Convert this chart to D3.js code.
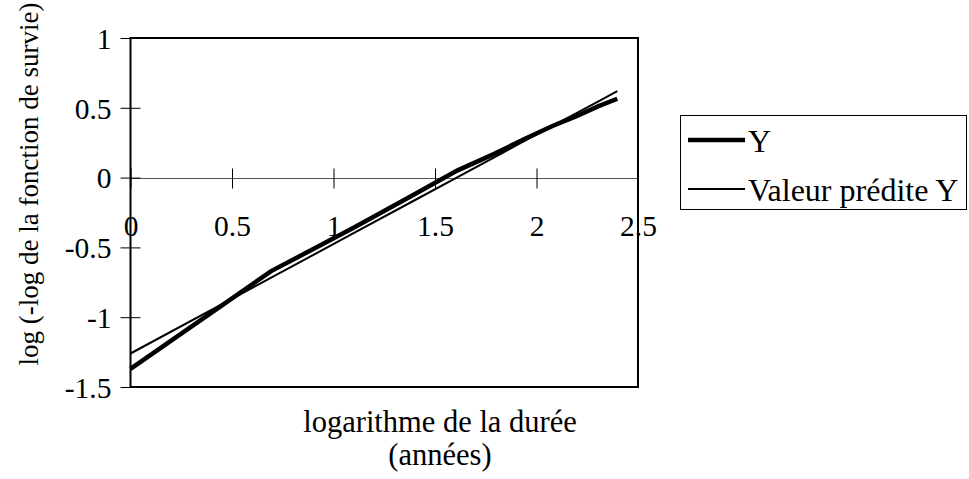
<!DOCTYPE html>
<html>
<head>
<meta charset="utf-8">
<script src="https://cdn.jsdelivr.net/npm/d3@7"></script>
<style>
  body { margin: 0; background: #fff; }
  svg { display: block; }
  text { font-family: "Liberation Serif", "Times New Roman", serif; fill: #000; }
</style>
</head>
<body>
<svg id="chart" width="969" height="479"></svg>
<script>
// logarithme de la durée (ln t, t = 1..11 années)
const logDuree = [0, 0.693, 1.099, 1.386, 1.609, 1.792, 1.946, 2.079, 2.197, 2.303, 2.398];
// log(-log S(t)) observé
const yObserve = [-1.37, -0.67, -0.36, -0.13, 0.05, 0.17, 0.28, 0.37, 0.44, 0.51, 0.565];
// valeurs prédites par la droite de régression
const yPredit = [-1.26, -0.717, -0.398, -0.173, 0.001, 0.145, 0.266, 0.370, 0.462, 0.545, 0.620];

const xTicks = [0, 0.5, 1, 1.5, 2, 2.5];
const yTicks = [-1.5, -1, -0.5, 0, 0.5, 1];
const seriesNames = ["Y", "Valeur prédite Y"];
const xTitle = ["logarithme de la durée", "(années)"];
const yTitle = "log (-log de la fonction de survie)";

const svg = d3.select("#chart");
const tickFont = 29.5;
const fmt = d => String(d);   // plain hyphen for negatives

const x = d3.scaleLinear().domain([0, 2.5]).range([130.5, 638]);
const y = d3.scaleLinear().domain([-1.5, 1]).range([387, 38]);

// zero line across the plot
svg.append("line")
  .attr("x1", x(0)).attr("x2", x(2.5))
  .attr("y1", Math.round(y(0)) + 0.5).attr("y2", Math.round(y(0)) + 0.5)
  .attr("stroke", "#555").attr("stroke-width", 1);

// x axis ticks along the zero line (crossing ticks)
const xAxis = svg.append("g")
  .attr("transform", `translate(0,${Math.round(y(0)) + 0.5})`)
  .call(d3.axisBottom(x).tickValues(xTicks).tickSize(10).tickSizeOuter(0).tickFormat(fmt));
xAxis.select(".domain").remove();
xAxis.selectAll(".tick line").attr("stroke", "#000").attr("y1", -10).attr("y2", 10);
xAxis.selectAll(".tick text")
  .attr("y", 57).attr("dy", null)
  .style("font-size", tickFont + "px")
  .style("font-family", "'Liberation Serif', 'Times New Roman', serif");

// y axis (crossing ticks)
const yAxis = svg.append("g")
  .attr("transform", `translate(${x(0)},0)`)
  .call(d3.axisLeft(y).tickValues(yTicks).tickSize(10).tickSizeOuter(0).tickPadding(9).tickFormat(fmt));
yAxis.select(".domain").remove();
yAxis.selectAll(".tick line").attr("stroke", "#000").attr("x1", 10).attr("x2", -10);
yAxis.selectAll(".tick text")
  .attr("dy", "0.35em")
  .style("font-size", tickFont + "px")
  .style("font-family", "'Liberation Serif', 'Times New Roman', serif");

// plot border
svg.append("rect")
  .attr("x", x(0)).attr("y", y(1))
  .attr("width", x(2.5) - x(0)).attr("height", y(-1.5) - y(1))
  .attr("fill", "none").attr("stroke", "#000").attr("stroke-width", 2);

// series
const line = d3.line().x((d, i) => x(logDuree[i])).y(d => y(d));
svg.append("path").datum(yPredit)
  .attr("d", line).attr("fill", "none").attr("stroke", "#000").attr("stroke-width", 2);
svg.append("path").datum(yObserve)
  .attr("d", line).attr("fill", "none").attr("stroke", "#000").attr("stroke-width", 4.5);

// axis titles
svg.append("text")
  .attr("x", 440).attr("y", 432).attr("text-anchor", "middle")
  .style("font-size", "30.5px").text(xTitle[0]);
svg.append("text")
  .attr("x", 440).attr("y", 465).attr("text-anchor", "middle")
  .style("font-size", "30.5px").text(xTitle[1]);
svg.append("text")
  .attr("transform", "translate(38,184) rotate(-90)")
  .attr("text-anchor", "middle")
  .style("font-size", "27px").text(yTitle);

// legend
const lg = svg.append("g");
lg.append("rect")
  .attr("x", 680.5).attr("y", 115.5).attr("width", 286).attr("height", 94)
  .attr("fill", "#fff").attr("stroke", "#000").attr("stroke-width", 1);
const legendRows = [
  { name: seriesNames[0], w: 4.5, ly: 140, ty: 152 },
  { name: seriesNames[1], w: 2, ly: 189, ty: 201 }
];
legendRows.forEach(r => {
  lg.append("line").attr("x1", 688).attr("x2", 745).attr("y1", r.ly).attr("y2", r.ly)
    .attr("stroke", "#000").attr("stroke-width", r.w);
  lg.append("text").attr("x", 748).attr("y", r.ty)
    .style("font-size", "32px").text(r.name);
});
</script>
</body>
</html>
